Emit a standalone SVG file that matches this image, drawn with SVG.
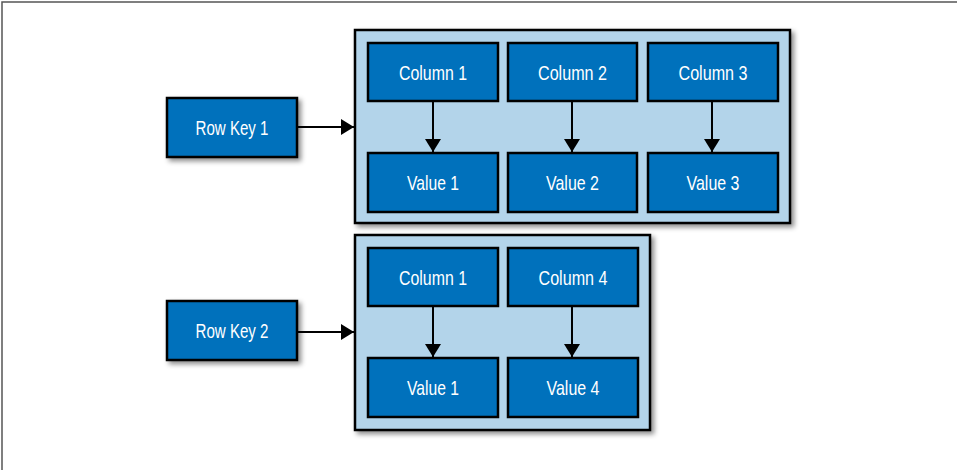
<svg xmlns="http://www.w3.org/2000/svg" width="957" height="470" viewBox="0 0 957 470">
<defs>
<filter id="sh" x="-20%" y="-20%" width="140%" height="140%">
<feDropShadow dx="3" dy="3" stdDeviation="2.5" flood-color="#000" flood-opacity="0.45"/>
</filter>
<marker id="ah" markerWidth="14" markerHeight="16" refX="13" refY="8" orient="auto" markerUnits="userSpaceOnUse">
<path d="M0,0 L13,8 L0,16 Z" fill="#000"/>
</marker>
<style>
.cont{fill:#b3d4ea;stroke:#000;stroke-width:2.5;filter:url(#sh)}
.box{fill:#0071bc;stroke:#000;stroke-width:2.5}
.key{fill:#0071bc;stroke:#000;stroke-width:2.5;filter:url(#sh)}
.lbl{fill:#fff;font-family:"Liberation Sans",Arial,sans-serif;font-size:21px;text-anchor:middle}
.ln{stroke:#000;stroke-width:2;fill:none;marker-end:url(#ah)}
</style>
</defs>
<rect width="957" height="470" fill="#fff"/>
<path d="M2,470 V2 H957" fill="none" stroke="#555" stroke-width="1.5"/>

<g id="rowkey1"><rect class="key" x="167" y="98" width="130" height="59"/><text class="lbl" x="232" y="135" textLength="73" lengthAdjust="spacingAndGlyphs">Row Key 1</text></g>
<g id="rowkey2"><rect class="key" x="167" y="301" width="130" height="59"/><text class="lbl" x="232" y="338" textLength="73" lengthAdjust="spacingAndGlyphs">Row Key 2</text></g>

<g id="row1"><rect class="cont" x="355" y="30" width="435" height="193"/></g>
<g id="row2"><rect class="cont" x="355" y="235" width="295" height="195"/></g>

<g id="r1c1"><rect class="box" x="368" y="43" width="130" height="58"/><text class="lbl" x="433" y="80" textLength="68" lengthAdjust="spacingAndGlyphs">Column 1</text></g>
<g id="r1c2"><rect class="box" x="508" y="43" width="129" height="58"/><text class="lbl" x="572.5" y="80" textLength="69" lengthAdjust="spacingAndGlyphs">Column 2</text></g>
<g id="r1c3"><rect class="box" x="648" y="43" width="130" height="58"/><text class="lbl" x="713" y="80" textLength="69" lengthAdjust="spacingAndGlyphs">Column 3</text></g>
<g id="r1v1"><rect class="box" x="368" y="153" width="130" height="59"/><text class="lbl" x="433" y="190" textLength="52" lengthAdjust="spacingAndGlyphs">Value 1</text></g>
<g id="r1v2"><rect class="box" x="508" y="153" width="129" height="59"/><text class="lbl" x="572.5" y="190" textLength="53" lengthAdjust="spacingAndGlyphs">Value 2</text></g>
<g id="r1v3"><rect class="box" x="648" y="153" width="130" height="59"/><text class="lbl" x="713" y="190" textLength="53" lengthAdjust="spacingAndGlyphs">Value 3</text></g>

<g id="r2c1"><rect class="box" x="368" y="248" width="130" height="58"/><text class="lbl" x="433" y="285" textLength="68" lengthAdjust="spacingAndGlyphs">Column 1</text></g>
<g id="r2c4"><rect class="box" x="508" y="248" width="130" height="58"/><text class="lbl" x="573" y="285" textLength="69" lengthAdjust="spacingAndGlyphs">Column 4</text></g>
<g id="r2v1"><rect class="box" x="368" y="358" width="130" height="59"/><text class="lbl" x="433" y="395" textLength="52" lengthAdjust="spacingAndGlyphs">Value 1</text></g>
<g id="r2v4"><rect class="box" x="508" y="358" width="130" height="59"/><text class="lbl" x="573" y="395" textLength="53" lengthAdjust="spacingAndGlyphs">Value 4</text></g>

<g id="connectors">
<path class="ln" d="M297,127 H354"/>
<path class="ln" d="M297,332 H354"/>
<path class="ln" d="M433,102 V152"/>
<path class="ln" d="M572,102 V152"/>
<path class="ln" d="M712,102 V152"/>
<path class="ln" d="M433,307 V357"/>
<path class="ln" d="M572,307 V357"/>
</g>
</svg>
